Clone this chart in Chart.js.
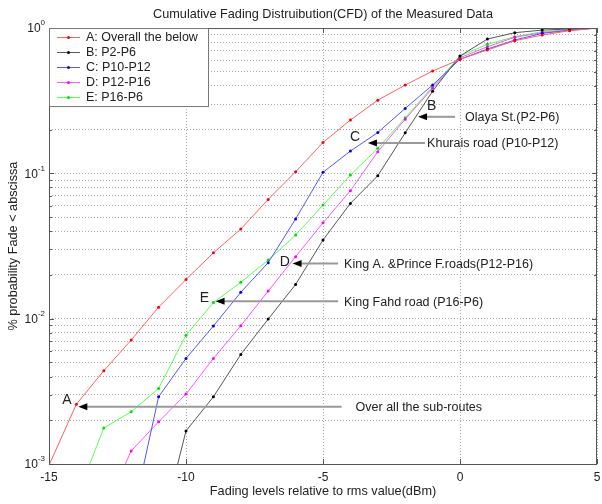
<!DOCTYPE html>
<html>
<head>
<meta charset="utf-8">
<script src="https://cdn.jsdelivr.net/npm/chart.js@4/dist/chart.umd.min.js"></script>
<style>
  html, body { margin: 0; padding: 0; background: #fff; }
  #wrap { width: 602px; height: 504px; }
</style>
</head>
<body>
<div id="wrap"><canvas id="cfd" width="602" height="504"></canvas></div>
<script>
const FONT = "'Liberation Sans', Arial, sans-serif"

// fading level (dB relative to rms)
const levels = [-15, -14, -13, -12, -11, -10, -9, -8, -7, -6, -5, -4, -3, -2, -1, 0, 1, 2, 3, 4, 5]

// cumulative probability per route
const routeA = [0.00098, 0.00258, 0.00438, 0.00713, 0.0120, 0.0186, 0.0284, 0.0414, 0.0662, 0.1026, 0.163, 0.233, 0.319, 0.405, 0.506, 0.609, 0.706, 0.818, 0.895, 0.959, 1.0]
const routeB = [null, null, null, null, 0.0003, 0.00169, 0.0029, 0.00568, 0.00993, 0.0172, 0.0348, 0.0621, 0.0964, 0.190, 0.368, 0.642, 0.840, 0.929, 0.968, 0.985, 1.0]
const routeC = [null, null, null, 0.0004, 0.0029, 0.00533, 0.0089, 0.0152, 0.0243, 0.0485, 0.1016, 0.1424, 0.191, 0.280, 0.405, 0.610, 0.717, 0.827, 0.919, 0.965, 1.0]
const routeD = [null, null, 0.00047, 0.00123, 0.00195, 0.00303, 0.00533, 0.00894, 0.0155, 0.0267, 0.0457, 0.0759, 0.141, 0.236, 0.385, 0.625, 0.744, 0.863, 0.929, 0.970, 1.0]
const routeE = [null, 0.00058, 0.00177, 0.00229, 0.00331, 0.0077, 0.0129, 0.0178, 0.0253, 0.0376, 0.0605, 0.0973, 0.1486, 0.241, 0.394, 0.642, 0.772, 0.872, 0.943, 0.975, 1.0]

const seriesNames = ['A: Overall the below', 'B: P2-P6', 'C: P10-P12', 'D: P12-P16', 'E: P16-P6']
const seriesData = [routeA, routeB, routeC, routeD, routeE]
const lineColors = ['#ff6060', '#555555', '#5555ff', '#ff55ff', '#55ff55']
const dotColors = ['#ff0000', '#000000', '#0000ff', '#ff00ff', '#00dd00']

const yTicks = []
for (let p = -3; p <= 0; p++) for (let m = 1; m <= 9; m++) { const v = m * 10 ** p; if (v <= 1) yTicks.push(+v.toPrecision(2)) }

// annotation: letter, letter pos, arrow from -> to (data units), caption
const notes = [
  { tag: 'A', tx: -14.35, ty: 0.00275, x1: -4.32, x2: -13.93, y: 0.00248, text: 'Over all the sub-routes', cx: -3.81 },
  { tag: 'B', tx: -1.03, ty: 0.290, x1: -0.18, x2: -1.53, y: 0.245, text: 'Olaya St.(P2-P6)', cx: 0.18 },
  { tag: 'C', tx: -3.83, ty: 0.178, x1: -1.28, x2: -3.36, y: 0.162, text: 'Khurais road (P10-P12)', cx: -1.2 },
  { tag: 'D', tx: -6.39, ty: 0.0246, x1: -4.45, x2: -6.11, y: 0.024, text: 'King A. &Prince F.roads(P12-P16)', cx: -4.23 },
  { tag: 'E', tx: -9.33, ty: 0.0138, x1: -4.45, x2: -8.92, y: 0.0132, text: 'King Fahd road (P16-P6)', cx: -4.23 }
]

const decor = {
  id: 'decor',
  afterDatasetsDraw (chart) {
    const { ctx, chartArea: a, scales: { x, y } } = chart
    ctx.save()

    // plot box
    ctx.strokeStyle = '#555'; ctx.lineWidth = 1
    ctx.strokeRect(a.left + 0.5, a.top + 0.5, a.right - a.left - 1, a.bottom - a.top)

    // inward tick marks
    ctx.beginPath()
    yTicks.forEach(v => {
      const py = Math.round(y.getPixelForValue(v)) + 0.5
      const len = Math.abs(Math.log10(v) % 1) < 1e-6 ? 5 : 3
      ctx.moveTo(a.left, py); ctx.lineTo(a.left + len, py)
      ctx.moveTo(a.right, py); ctx.lineTo(a.right - len, py)
    })
    x.ticks.forEach(t => {
      const px = Math.round(x.getPixelForValue(t.value)) + 0.5
      ctx.moveTo(px, a.bottom); ctx.lineTo(px, a.bottom - 5)
      ctx.moveTo(px, a.top); ctx.lineTo(px, a.top + 5)
    })
    ctx.stroke()

    // y tick labels 10^n
    ctx.fillStyle = '#222'
    for (let p = -3; p <= 0; p++) {
      const py = y.getPixelForValue(10 ** p)
      const exp = String(p)
      ctx.font = '8px ' + FONT
      const ew = ctx.measureText(exp).width
      const right = a.left - 4
      ctx.textAlign = 'left'; ctx.textBaseline = 'middle'
      ctx.fillText(exp, right - ew, py - 5)
      ctx.font = '12px ' + FONT
      ctx.textAlign = 'right'
      ctx.fillText('10', right - ew, py + 1)
    }

    // annotations
    notes.forEach(n => {
      const py = y.getPixelForValue(n.y)
      const p1 = x.getPixelForValue(n.x1)
      const p2 = x.getPixelForValue(n.x2)
      ctx.strokeStyle = '#999'; ctx.lineWidth = 2
      ctx.beginPath(); ctx.moveTo(p1, py); ctx.lineTo(p2 + 6, py); ctx.stroke()
      ctx.fillStyle = '#000'
      ctx.beginPath(); ctx.moveTo(p2, py); ctx.lineTo(p2 + 9, py - 3.5); ctx.lineTo(p2 + 9, py + 3.5); ctx.closePath(); ctx.fill()
      ctx.fillStyle = '#222'
      ctx.font = '14px ' + FONT; ctx.textAlign = 'center'; ctx.textBaseline = 'middle'
      ctx.fillText(n.tag, x.getPixelForValue(n.tx), y.getPixelForValue(n.ty))
      ctx.font = '12.5px ' + FONT; ctx.textAlign = 'left'
      ctx.fillText(n.text, x.getPixelForValue(n.cx), py + 1)
    })

    // legend box
    const lx = a.left, ly = a.top, lw = 159, lh = 78
    ctx.fillStyle = '#fff'; ctx.fillRect(lx, ly, lw, lh)
    ctx.strokeStyle = '#777'; ctx.lineWidth = 1
    ctx.strokeRect(lx + 0.5, ly + 0.5, lw, lh)
    seriesNames.forEach((name, i) => {
      const ry = ly + 9 + i * 15
      ctx.strokeStyle = lineColors[i]; ctx.lineWidth = 1
      ctx.beginPath(); ctx.moveTo(lx + 8, ry + 0.5); ctx.lineTo(lx + 31, ry + 0.5); ctx.stroke()
      ctx.fillStyle = dotColors[i]
      ctx.beginPath(); ctx.arc(lx + 19.5, ry + 0.5, 1.5, 0, Math.PI * 2); ctx.fill()
      ctx.fillStyle = '#222'; ctx.font = '12.5px ' + FONT
      ctx.textAlign = 'left'; ctx.textBaseline = 'middle'
      ctx.fillText(name, lx + 37, ry + 1)
    })
    ctx.restore()
  }
}

new Chart(document.getElementById('cfd'), {
  type: 'line',
  data: {
    datasets: seriesData.map((vals, i) => ({
      label: seriesNames[i],
      data: levels.map((lv, k) => ({ x: lv, y: vals[k] })),
      borderColor: lineColors[i],
      borderWidth: 1,
      pointRadius: 1.5,
      pointBorderWidth: 0,
      pointBackgroundColor: dotColors[i],
      tension: 0
    }))
  },
  options: {
    responsive: false, animation: false,
    layout: { padding: { left: 0, right: 5, top: 0, bottom: 0 } },
    plugins: {
      legend: { display: false },
      tooltip: { enabled: false },
      title: {
        display: true, fullSize: false, text: 'Cumulative Fading Distruibution(CFD) of the Measured Data',
        color: '#222', font: { size: 12.7, family: FONT, weight: 'normal' },
        padding: { top: 6.8, bottom: 6 }
      }
    },
    scales: {
      x: {
        type: 'linear', min: -15, max: 5,
        ticks: { stepSize: 5, color: '#222', font: { size: 12, family: FONT }, padding: 6, maxRotation: 0 },
        grid: { color: '#a8a8a8', lineWidth: 1, drawTicks: false },
        border: { display: false, dash: [1, 2] },
        title: { display: true, text: 'Fading levels relative to rms value(dBm)', color: '#222', font: { size: 12.7, family: FONT }, padding: { top: 0, bottom: 4.5 } },
        afterFit: s => { s.height = 40; s.paddingRight = 0; s.paddingLeft = 0 }
      },
      y: {
        type: 'logarithmic', min: 0.001, max: 1,
        afterBuildTicks: s => { s.ticks = yTicks.map(v => ({ value: v })) },
        ticks: { display: false },
        grid: { color: '#a8a8a8', lineWidth: 1, drawTicks: false },
        border: { display: false, dash: [1, 2] },
        title: { display: true, text: '% probability Fade < abscissa', color: '#222', font: { size: 12.7, family: FONT }, padding: { top: 5.5, bottom: 0 } },
        afterFit: s => { s.width = 49 }
      }
    }
  },
  plugins: [decor]
})
</script>
</body>
</html>
